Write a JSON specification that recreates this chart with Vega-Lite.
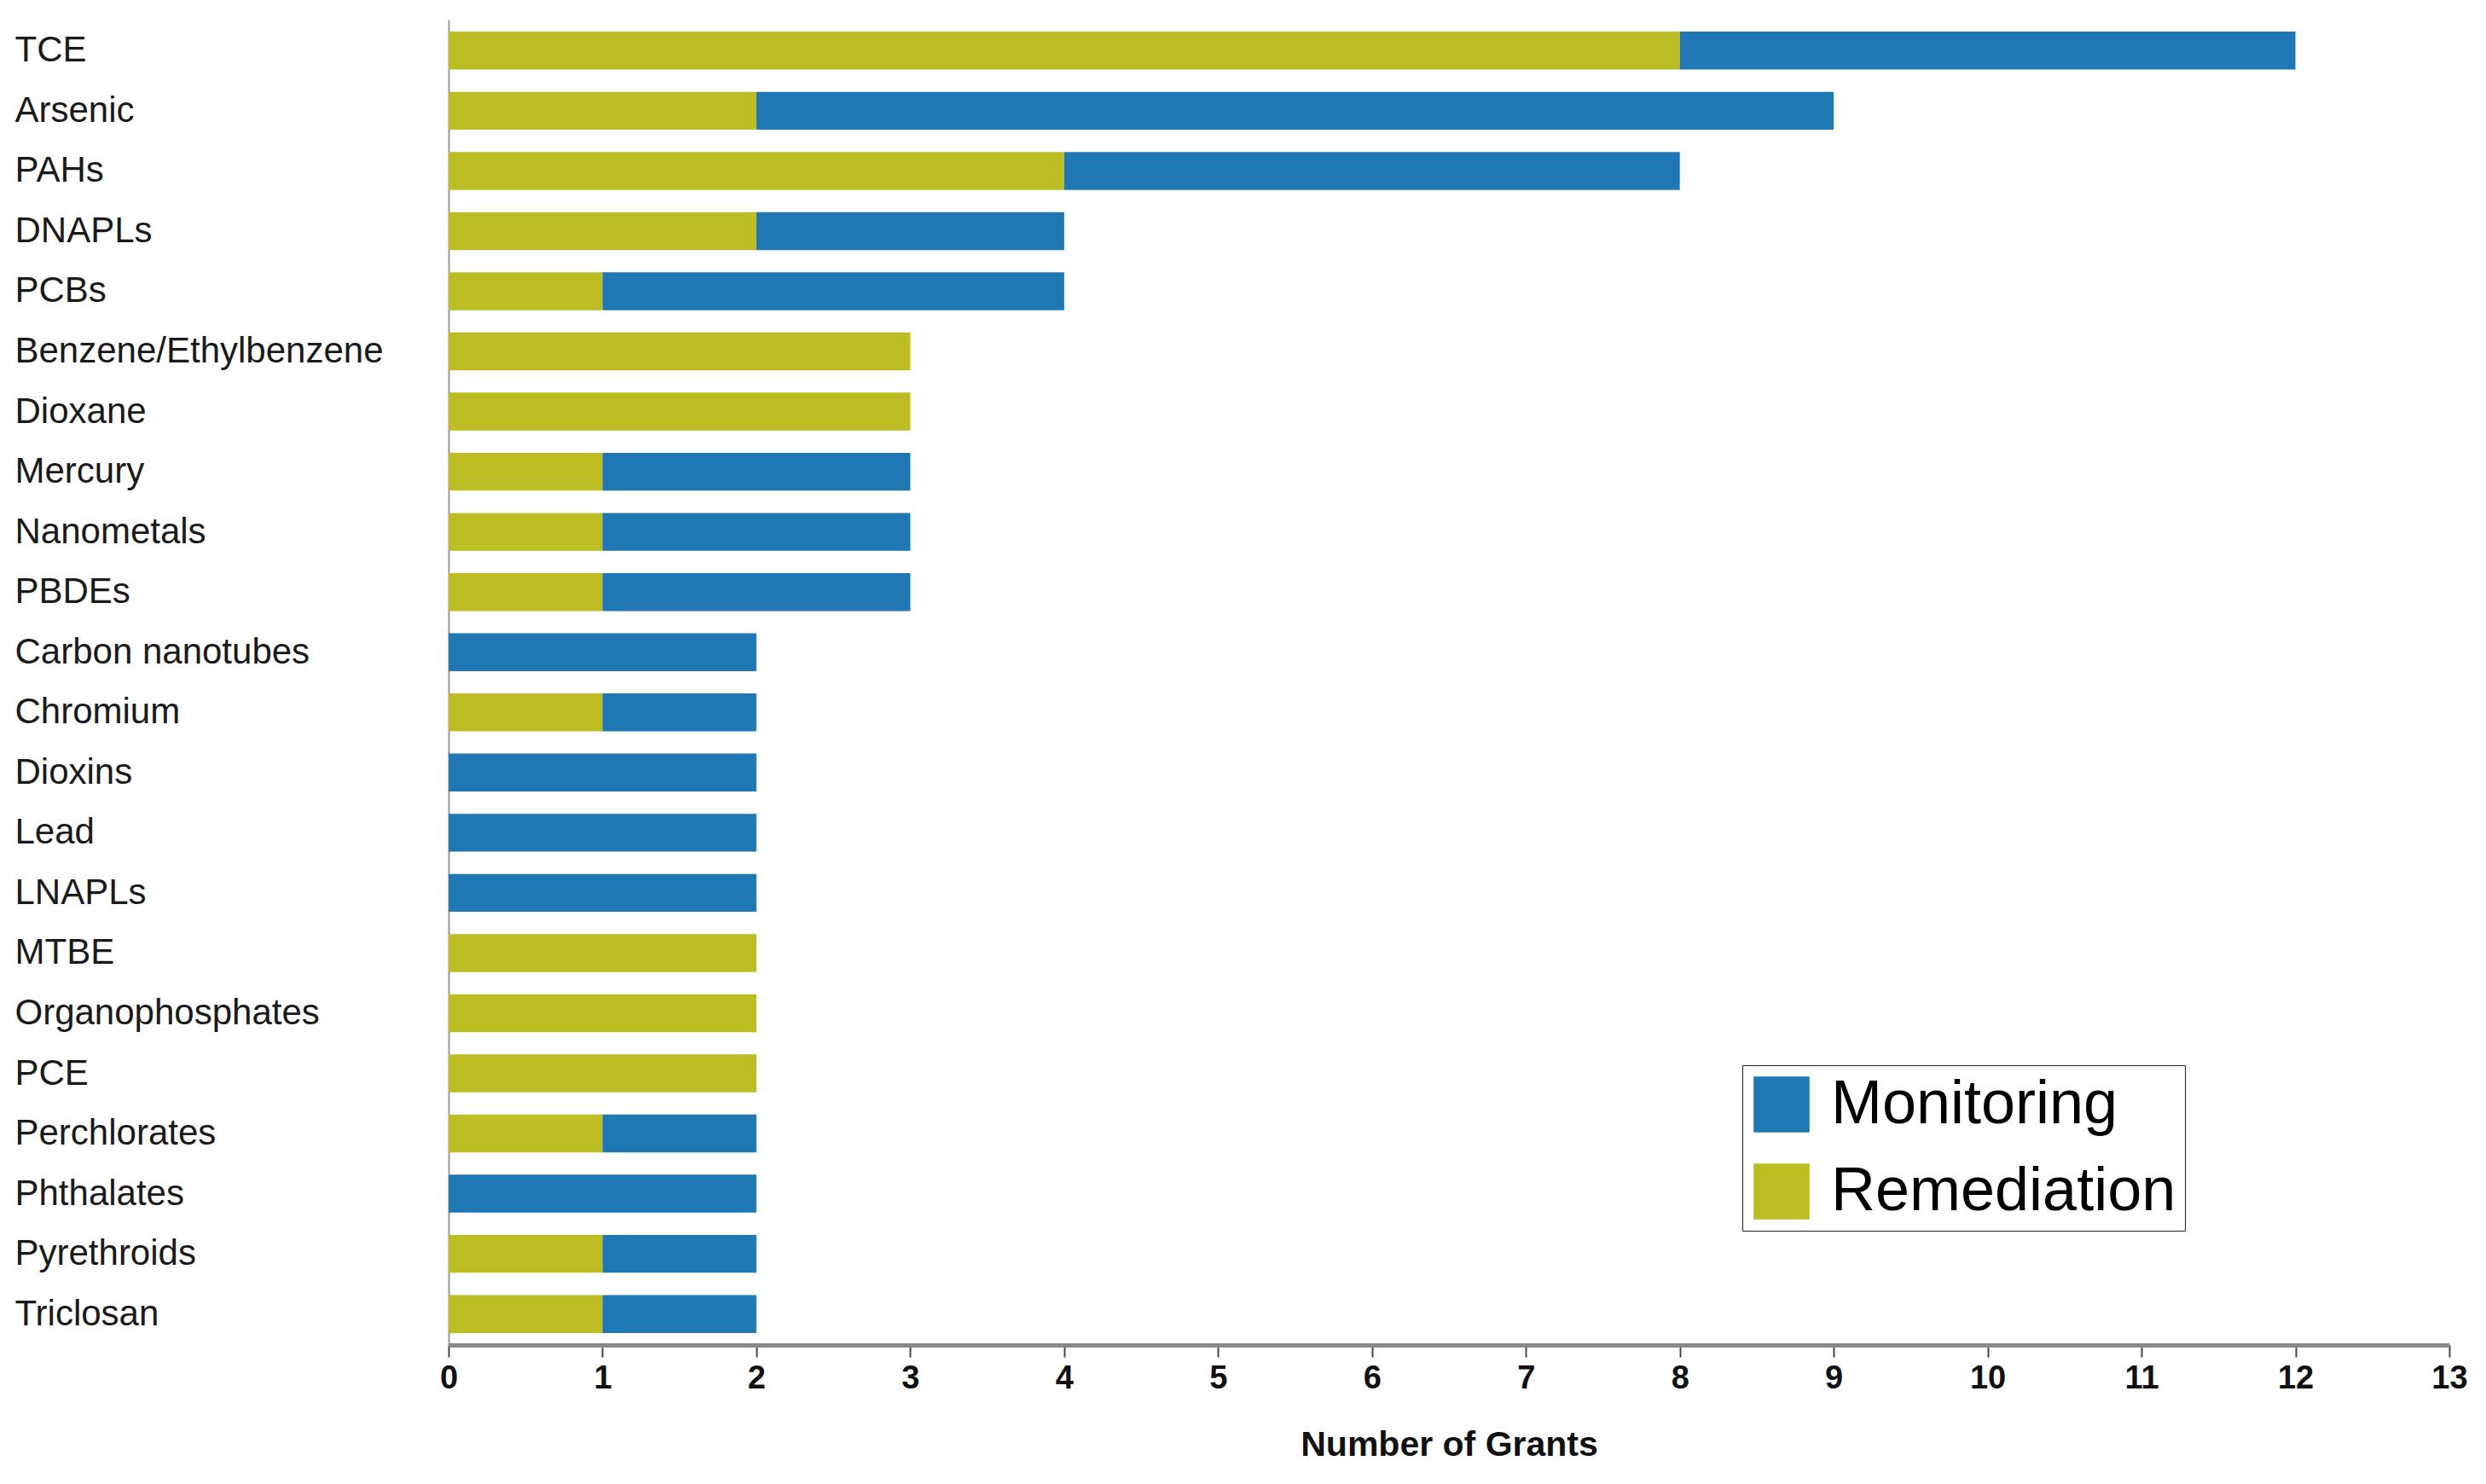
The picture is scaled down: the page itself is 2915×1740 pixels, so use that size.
{
  "$schema": "https://vega.github.io/schema/vega-lite/v6.json",
  "width": 2346,
  "height": 1554,
  "autosize": {"type": "none"},
  "padding": {"left": 526, "top": 23, "right": 43, "bottom": 163},
  "background": "white",
  "config": {"view": {"stroke": null}},
  "data": {
    "values": [
      {"contaminant": "TCE", "category": "Remediation", "grants": 8, "rank": 1},
      {"contaminant": "TCE", "category": "Monitoring", "grants": 4, "rank": 2},
      {"contaminant": "Arsenic", "category": "Remediation", "grants": 2, "rank": 1},
      {"contaminant": "Arsenic", "category": "Monitoring", "grants": 7, "rank": 2},
      {"contaminant": "PAHs", "category": "Remediation", "grants": 4, "rank": 1},
      {"contaminant": "PAHs", "category": "Monitoring", "grants": 4, "rank": 2},
      {"contaminant": "DNAPLs", "category": "Remediation", "grants": 2, "rank": 1},
      {"contaminant": "DNAPLs", "category": "Monitoring", "grants": 2, "rank": 2},
      {"contaminant": "PCBs", "category": "Remediation", "grants": 1, "rank": 1},
      {"contaminant": "PCBs", "category": "Monitoring", "grants": 3, "rank": 2},
      {"contaminant": "Benzene/Ethylbenzene", "category": "Remediation", "grants": 3, "rank": 1},
      {"contaminant": "Dioxane", "category": "Remediation", "grants": 3, "rank": 1},
      {"contaminant": "Mercury", "category": "Remediation", "grants": 1, "rank": 1},
      {"contaminant": "Mercury", "category": "Monitoring", "grants": 2, "rank": 2},
      {"contaminant": "Nanometals", "category": "Remediation", "grants": 1, "rank": 1},
      {"contaminant": "Nanometals", "category": "Monitoring", "grants": 2, "rank": 2},
      {"contaminant": "PBDEs", "category": "Remediation", "grants": 1, "rank": 1},
      {"contaminant": "PBDEs", "category": "Monitoring", "grants": 2, "rank": 2},
      {"contaminant": "Carbon nanotubes", "category": "Monitoring", "grants": 2, "rank": 2},
      {"contaminant": "Chromium", "category": "Remediation", "grants": 1, "rank": 1},
      {"contaminant": "Chromium", "category": "Monitoring", "grants": 1, "rank": 2},
      {"contaminant": "Dioxins", "category": "Monitoring", "grants": 2, "rank": 2},
      {"contaminant": "Lead", "category": "Monitoring", "grants": 2, "rank": 2},
      {"contaminant": "LNAPLs", "category": "Monitoring", "grants": 2, "rank": 2},
      {"contaminant": "MTBE", "category": "Remediation", "grants": 2, "rank": 1},
      {"contaminant": "Organophosphates", "category": "Remediation", "grants": 2, "rank": 1},
      {"contaminant": "PCE", "category": "Remediation", "grants": 2, "rank": 1},
      {"contaminant": "Perchlorates", "category": "Remediation", "grants": 1, "rank": 1},
      {"contaminant": "Perchlorates", "category": "Monitoring", "grants": 1, "rank": 2},
      {"contaminant": "Phthalates", "category": "Monitoring", "grants": 2, "rank": 2},
      {"contaminant": "Pyrethroids", "category": "Remediation", "grants": 1, "rank": 1},
      {"contaminant": "Pyrethroids", "category": "Monitoring", "grants": 1, "rank": 2},
      {"contaminant": "Triclosan", "category": "Remediation", "grants": 1, "rank": 1},
      {"contaminant": "Triclosan", "category": "Monitoring", "grants": 1, "rank": 2}
    ]
  },
  "mark": {"type": "bar"},
  "encoding": {
    "y": {
      "field": "contaminant",
      "type": "nominal",
      "sort": null,
      "scale": {"paddingInner": 0.37, "paddingOuter": 0.2},
      "axis": {
        "title": null,
        "ticks": false,
        "tickSize": 0,
        "domain": true,
        "domainColor": "#999999",
        "domainWidth": 2,
        "labelAlign": "left",
        "labelPadding": 509,
        "labelFont": "Liberation Sans",
        "labelFontSize": 42,
        "labelColor": "#1a1a1a",
        "labelLimit": 600
      }
    },
    "x": {
      "field": "grants",
      "type": "quantitative",
      "stack": "zero",
      "scale": {"domain": [0, 13], "nice": false},
      "axis": {
        "title": "Number of Grants",
        "values": [0,1,2,3,4,5,6,7,8,9,10,11,12,13],
        "grid": false,
        "domainColor": "#888888",
        "domainWidth": 5,
        "tickColor": "#444444",
        "tickWidth": 2,
        "tickSize": 14,
        "labelFont": "Liberation Sans",
        "labelFontWeight": "bold",
        "labelFontSize": 38,
        "labelColor": "#111111",
        "labelPadding": 6,
        "labelFlush": false,
        "titleFont": "Liberation Sans",
        "titleFontWeight": "bold",
        "titleFontSize": 41,
        "titleColor": "#111111",
        "titlePadding": 39
      }
    },
    "color": {
      "field": "category",
      "type": "nominal",
      "scale": {"domain": ["Monitoring", "Remediation"], "range": ["#1f77b4", "#bcbd22"]},
      "legend": {
        "title": "\u00a0\u00a0\u00a0\u00a0\u00a0\u00a0",
        "titleOrient": "right",
        "titleFont": "Liberation Sans",
        "titleFontSize": 72,
        "titlePadding": 0,
        "orient": "none",
        "legendX": 1517,
        "legendY": 1226,
        "symbolType": "square",
        "symbolSize": 4300,
        "symbolStrokeWidth": 0,
        "labelFont": "Liberation Sans",
        "labelFontSize": 72,
        "labelColor": "#000000",
        "labelOffset": 22,
        "rowPadding": 30,
        "padding": 10,
        "strokeColor": "#222222",
        "fillColor": "white",
        "labelLimit": 1000
      }
    },
    "order": {"field": "rank", "type": "quantitative"}
  }
}
